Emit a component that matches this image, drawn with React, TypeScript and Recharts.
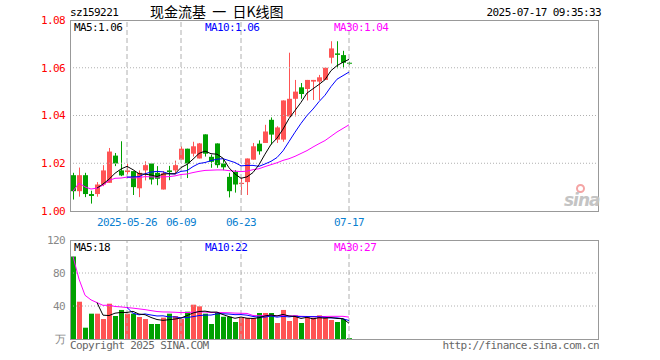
import { ComposedChart, Bar, Line, XAxis, YAxis, ReferenceLine, Cell } from 'recharts';

const MONO = '"DejaVu Sans Mono", "Liberation Mono", monospace';
const RED = '#ff5454';
const GREEN = '#00a000';
const SLOTS = 88;

const dates = [
  '2025-05-13', '2025-05-14', '2025-05-15', '2025-05-16', '2025-05-19', '2025-05-20', '2025-05-21', '2025-05-22',
  '2025-05-23', '2025-05-26', '2025-05-27', '2025-05-28', '2025-05-29', '2025-05-30', '2025-06-03', '2025-06-04',
  '2025-06-05', '2025-06-06', '2025-06-09', '2025-06-10', '2025-06-11', '2025-06-12', '2025-06-13', '2025-06-16',
  '2025-06-17', '2025-06-18', '2025-06-19', '2025-06-20', '2025-06-23', '2025-06-24', '2025-06-25', '2025-06-26',
  '2025-06-27', '2025-06-30', '2025-07-01', '2025-07-02', '2025-07-03', '2025-07-04', '2025-07-07', '2025-07-08',
  '2025-07-09', '2025-07-10', '2025-07-11', '2025-07-14', '2025-07-15', '2025-07-16', '2025-07-17',
];

const opens = [
  1.0150, 1.0083, 1.0150, 1.0071, 1.0071, 1.0111, 1.0118, 1.0232, 1.0170, 1.0163,
  1.0167, 1.0095, 1.0170, 1.0199, 1.0160, 1.0090, 1.0170, 1.0170, 1.0215, 1.0261,
  1.0240, 1.0220, 1.0321, 1.0227, 1.0283, 1.0199, 1.0143, 1.0164, 1.0113, 1.0121,
  1.0215, 1.0282, 1.0285, 1.0382, 1.0299, 1.0299, 1.0396, 1.0470, 1.0518, 1.0511,
  1.0542, 1.0542, 1.0549, 1.0642, 1.0660, 1.0653, 1.0621,
];
const highs = [
  1.0160, 1.0182, 1.0160, 1.0085, 1.0121, 1.0192, 1.0264, 1.0243, 1.0292, 1.0198,
  1.0167, 1.0170, 1.0208, 1.0199, 1.0188, 1.0167, 1.0189, 1.0211, 1.0271, 1.0261,
  1.0290, 1.0285, 1.0321, 1.0236, 1.0283, 1.0215, 1.0160, 1.0171, 1.0140, 1.0220,
  1.0285, 1.0296, 1.0361, 1.0392, 1.0355, 1.0463, 1.0663, 1.0549, 1.0536, 1.0549,
  1.0549, 1.0570, 1.0600, 1.0711, 1.0711, 1.0671, 1.0625,
];
const lows = [
  1.0048, 1.0060, 1.0058, 1.0031, 1.0060, 1.0104, 1.0118, 1.0188, 1.0146, 1.0153,
  1.0067, 1.0058, 1.0128, 1.0111, 1.0108, 1.0090, 1.0129, 1.0153, 1.0215, 1.0138,
  1.0228, 1.0220, 1.0228, 1.0181, 1.0181, 1.0171, 1.0057, 1.0077, 1.0067, 1.0067,
  1.0215, 1.0236, 1.0285, 1.0278, 1.0285, 1.0290, 1.0396, 1.0396, 1.0470, 1.0463,
  1.0465, 1.0465, 1.0549, 1.0618, 1.0598, 1.0598, 1.0612,
];
const closes = [
  1.0083, 1.0150, 1.0071, 1.0063, 1.0111, 1.0170, 1.0249, 1.0199, 1.0149, 1.0170,
  1.0100, 1.0160, 1.0192, 1.0132, 1.0135, 1.0158, 1.0163, 1.0192, 1.0261, 1.0199,
  1.0271, 1.0283, 1.0240, 1.0206, 1.0192, 1.0183, 1.0083, 1.0111, 1.0118, 1.0220,
  1.0271, 1.0250, 1.0333, 1.0320, 1.0350, 1.0463, 1.0470, 1.0500, 1.0490, 1.0549,
  1.0549, 1.0560, 1.0600, 1.0681, 1.0654, 1.0621, 1.0617,
];

const ma5 = [
  null, null, null, null, 1.0096, 1.0113, 1.0133, 1.0158, 1.0176, 1.0187,
  1.0173, 1.0156, 1.0154, 1.0151, 1.0144, 1.0155, 1.0156, 1.0156, 1.0182, 1.0195,
  1.0217, 1.0241, 1.0251, 1.0240, 1.0238, 1.0221, 1.0181, 1.0155, 1.0137, 1.0143,
  1.0161, 1.0194, 1.0238, 1.0279, 1.0305, 1.0343, 1.0387, 1.0421, 1.0455, 1.0494,
  1.0512, 1.0530, 1.0550, 1.0588, 1.0609, 1.0623, 1.0635,
];
const ma10 = [
  null, null, null, null, null, null, null, null, null, 1.0142,
  1.0143, 1.0144, 1.0156, 1.0163, 1.0166, 1.0164, 1.0156, 1.0155, 1.0166, 1.0169,
  1.0186, 1.0199, 1.0203, 1.0211, 1.0217, 1.0219, 1.0211, 1.0203, 1.0189, 1.0191,
  1.0191, 1.0187, 1.0197, 1.0208, 1.0224, 1.0252, 1.0291, 1.0330, 1.0367, 1.0400,
  1.0427, 1.0458, 1.0485, 1.0521, 1.0552, 1.0567, 1.0582,
];
const ma30 = [
  1.0083, 1.0117, 1.0101, 1.0092, 1.0096, 1.0108, 1.0128, 1.0137, 1.0138, 1.0142,
  1.0138, 1.0140, 1.0144, 1.0143, 1.0142, 1.0143, 1.0144, 1.0147, 1.0153, 1.0155,
  1.0161, 1.0166, 1.0170, 1.0171, 1.0172, 1.0172, 1.0169, 1.0167, 1.0165, 1.0167,
  1.0173, 1.0177, 1.0186, 1.0194, 1.0202, 1.0212, 1.0219, 1.0229, 1.0241, 1.0253,
  1.0268, 1.0282, 1.0295, 1.0313, 1.0331, 1.0346, 1.0361,
];

// volume in 万
const vols = [
  100, 45.2, 13.7, 30.7, 30.7, 24.2, 42.8, 27.9, 35.2, 30.7,
  30.7, 26.7, 24.2, 18.2, 18.2, 25.9, 30.7, 27.9, 24.2, 33.1,
  41.6, 39.6, 30.7, 18.2, 32.7, 27.0, 27.0, 20.6, 25.9, 25.5,
  25.5, 31.5, 31.5, 31.5, 19.4, 35.2, 21.8, 28.7, 19.4, 26.3,
  25.9, 28.7, 26.3, 23.0, 20.6, 24.2, 1,
];
const volMa5 = [
  null, null, null, null, 44.1, 28.9, 28.4, 31.3, 32.2, 32.2,
  33.5, 30.2, 29.5, 26.1, 23.6, 22.6, 23.4, 24.2, 25.4, 28.4,
  31.5, 33.3, 33.8, 32.6, 32.6, 29.6, 27.1, 25.1, 26.6, 25.2,
  24.9, 25.8, 28.0, 29.1, 27.9, 29.8, 27.9, 27.3, 24.9, 26.3,
  24.4, 25.8, 25.3, 26.0, 24.9, 24.6, 19.0,
];
const volMa10 = [
  null, null, null, null, null, null, null, null, null, 38.1,
  31.2, 29.3, 30.4, 29.1, 27.9, 28.1, 26.8, 26.8, 25.7, 26.0,
  27.1, 28.4, 29.0, 29.0, 30.5, 30.6, 30.2, 29.5, 29.6, 28.9,
  27.3, 26.5, 26.5, 27.9, 26.5, 27.4, 26.8, 27.7, 27.0, 27.1,
  27.1, 26.8, 26.3, 25.5, 25.6, 24.5, 22.4,
];
const volMa30 = [
  100, 72.6, 53.0, 47.4, 44.1, 40.8, 41.0, 39.4, 38.9, 38.1,
  37.4, 36.5, 35.6, 34.4, 33.3, 32.8, 32.7, 32.4, 32.0, 32.1,
  32.5, 32.8, 32.7, 32.1, 32.2, 32.0, 31.8, 31.4, 31.2, 31.0,
  28.5, 28.1, 28.6, 28.7, 28.3, 28.7, 28.0, 28.0, 27.5, 27.3,
  27.2, 27.2, 27.3, 27.5, 27.5, 27.5, 26.5,
];

const tickText: Record<string, string> = {
  '2025-05-26': '2025-05-26',
  '2025-06-09': '06-09',
  '2025-06-23': '06-23',
  '2025-07-17': '07-17',
};
const markDates = ['2025-05-26', '2025-06-09', '2025-06-23', '2025-07-17'];
const priceTicks = [1.0, 1.02, 1.04, 1.06, 1.08];
const priceGrid = [1.02, 1.04, 1.06];
const volTicks = [0, 40, 80, 120];
const volGrid = [40, 80];

const rows = Array.from({ length: SLOTS }, (_, i) =>
  i < dates.length
    ? {
        date: dates[i], open: opens[i], high: highs[i], low: lows[i], close: closes[i],
        ma5: ma5[i], ma10: ma10[i], ma30: ma30[i],
        vol: vols[i], vma5: volMa5[i], vma10: volMa10[i], vma30: volMa30[i],
      }
    : { date: `_${i}` }
);

const Candle = (props: any) => {
  const { x, y, width, height, payload } = props;
  if (payload == null || payload.open == null || !isFinite(y) || !isFinite(height)) return null;
  const { open, close, high, low } = payload;
  const top = Math.min(y, y + height);
  const h = Math.abs(height);
  const py = (p: number) => (high === low ? top : top + ((high - p) / (high - low)) * h);
  const color = close >= open ? RED : GREEN;
  const cx = Math.floor(x + width / 2) + 0.5;
  const bTop = py(Math.max(open, close));
  const bBot = py(Math.min(open, close));
  return (
    <g>
      <line x1={cx} x2={cx} y1={top} y2={top + h} stroke={color} strokeWidth={1} />
      <rect x={x} y={bTop} width={width} height={Math.max(1, bBot - bTop)} fill={color} />
    </g>
  );
};

const txt = (left: number, top: number, color: string, s: string, extra: any = {}) => (
  <div
    style={{
      position: 'absolute', left, top, color, fontFamily: MONO, fontSize: 11,
      letterSpacing: -0.6, lineHeight: '12px', whiteSpace: 'pre', ...extra,
    }}
  >
    {s}
  </div>
);

export default function App() {
  const gridLine = { stroke: '#b0b0b0', strokeDasharray: '1 2' };
  const markLine = { stroke: '#b0b0b0', strokeDasharray: '5 3' };
  return (
    <div style={{ position: 'absolute', left: 0, top: 0, width: 660, height: 360, background: '#fff', overflow: 'hidden' }}>
      <div style={{ position: 'absolute', left: 0, top: 0 }}>
        <ComposedChart width={660} height={232} data={rows} margin={{ top: 20, right: 62, bottom: 1, left: 0 }} barCategoryGap={0}>
          <XAxis
            dataKey="date" interval={0} axisLine={false} tickLine={false} tickSize={0} tickMargin={7} height={20}
            tickFormatter={(d: string) => tickText[d] ?? ''}
            tick={{ fontSize: 11, fill: '#0a80d0', fontFamily: MONO, letterSpacing: -0.6 }}
          />
          <YAxis
            domain={[1.0, 1.08]} ticks={priceTicks} allowDataOverflow width={70}
            axisLine={false} tickLine={false} tickSize={0} tickMargin={5}
            tickFormatter={(v: number) => v.toFixed(2)}
            tick={{ fontSize: 11, fill: '#ff0000', fontFamily: MONO, letterSpacing: -0.6 }}
          />
          {priceGrid.map((v) => <ReferenceLine key={v} y={v} {...gridLine} />)}
          {markDates.map((d) => <ReferenceLine key={d} x={d} {...markLine} />)}
          <Bar dataKey={(d: any) => (d.high == null ? null : [d.low, d.high])} barSize={5} shape={Candle} isAnimationActive={false} />
          <Line dataKey="ma30" stroke="#ff00ff" strokeWidth={1} dot={false} isAnimationActive={false} />
          <Line dataKey="ma10" stroke="#0000ff" strokeWidth={1} dot={false} isAnimationActive={false} />
          <Line dataKey="ma5" stroke="#000000" strokeWidth={1} dot={false} isAnimationActive={false} />
        </ComposedChart>
      </div>
      <div style={{ position: 'absolute', left: 0, top: 0 }}>
        <ComposedChart width={660} height={360} data={rows} margin={{ top: 240, right: 62, bottom: 21, left: 0 }} barCategoryGap={0}>
          <XAxis dataKey="date" hide />
          <YAxis
            domain={[0, 120]} ticks={volTicks} allowDataOverflow width={70}
            axisLine={false} tickLine={false} tickSize={0} tickMargin={5}
            tickFormatter={(v: number) => (v === 0 ? '万' : String(v))}
            tick={{ fontSize: 11, fill: '#888888', fontFamily: MONO, letterSpacing: -0.6 }}
          />
          {volGrid.map((v) => <ReferenceLine key={v} y={v} {...gridLine} />)}
          {markDates.map((d) => <ReferenceLine key={d} x={d} {...markLine} />)}
          <Bar dataKey="vol" barSize={5} isAnimationActive={false}>
            {rows.map((r: any, i) => (
              <Cell key={i} fill={r.close != null && r.close >= r.open ? RED : GREEN} />
            ))}
          </Bar>
          <Line dataKey="vma30" stroke="#ff00ff" strokeWidth={1} dot={false} isAnimationActive={false} />
          <Line dataKey="vma10" stroke="#0000ff" strokeWidth={1} dot={false} isAnimationActive={false} />
          <Line dataKey="vma5" stroke="#000000" strokeWidth={1} dot={false} isAnimationActive={false} />
        </ComposedChart>
      </div>

      {/* frames */}
      <div style={{ position: 'absolute', left: 70, top: 20, width: 529, height: 192, border: '1px solid #999', boxSizing: 'border-box' }} />
      <div style={{ position: 'absolute', left: 70, top: 240, width: 529, height: 100, border: '1px solid #999', boxSizing: 'border-box' }} />

      {/* sina watermark */}
      <div style={{ position: 'absolute', left: 576, top: 184, width: 9, height: 9, borderRadius: 6, border: '2px solid #f4a4a4', boxSizing: 'border-box' }} />
      <div style={{ position: 'absolute', left: 564, top: 190, color: '#c4c4c4', fontFamily: '"DejaVu Sans", sans-serif', fontSize: 17, fontStyle: 'italic', fontWeight: 'bold', letterSpacing: -1, lineHeight: '20px' }}>sina</div>

      {/* header */}
      {txt(70, 7, '#000', 'sz159221')}
      <div style={{ position: 'absolute', left: 150, top: 4, fontFamily: '"Noto Sans CJK SC", sans-serif', fontSize: 14, lineHeight: '15px', whiteSpace: 'pre', color: '#000' }}>
        现金流基  一  日K线图
      </div>
      <div style={{ position: 'absolute', left: 0, top: 7, width: 601, textAlign: 'right', color: '#000', fontFamily: MONO, fontSize: 11, letterSpacing: -0.6, lineHeight: '12px' }}>
        2025-07-17 09:35:33
      </div>

      {/* MA legends */}
      {txt(74, 22, '#000', `MA5:${ma5[46]!.toFixed(2)}`)}
      {txt(205, 22, '#0000ff', `MA10:${ma10[46]!.toFixed(2)}`)}
      {txt(334, 22, '#ff00ff', `MA30:${ma30[46].toFixed(2)}`)}
      {txt(74, 242, '#000', 'MA5:18')}
      {txt(205, 242, '#0000ff', 'MA10:22')}
      {txt(334, 242, '#ff00ff', 'MA30:27')}

      {/* footer */}
      {txt(70, 340, '#666', 'Copyright 2025 SINA.COM')}
      <div style={{ position: 'absolute', left: 0, top: 340, width: 599, textAlign: 'right', color: '#666', fontFamily: MONO, fontSize: 11, letterSpacing: -0.6, lineHeight: '12px' }}>
        http://finance.sina.com.cn
      </div>
    </div>
  );
}
